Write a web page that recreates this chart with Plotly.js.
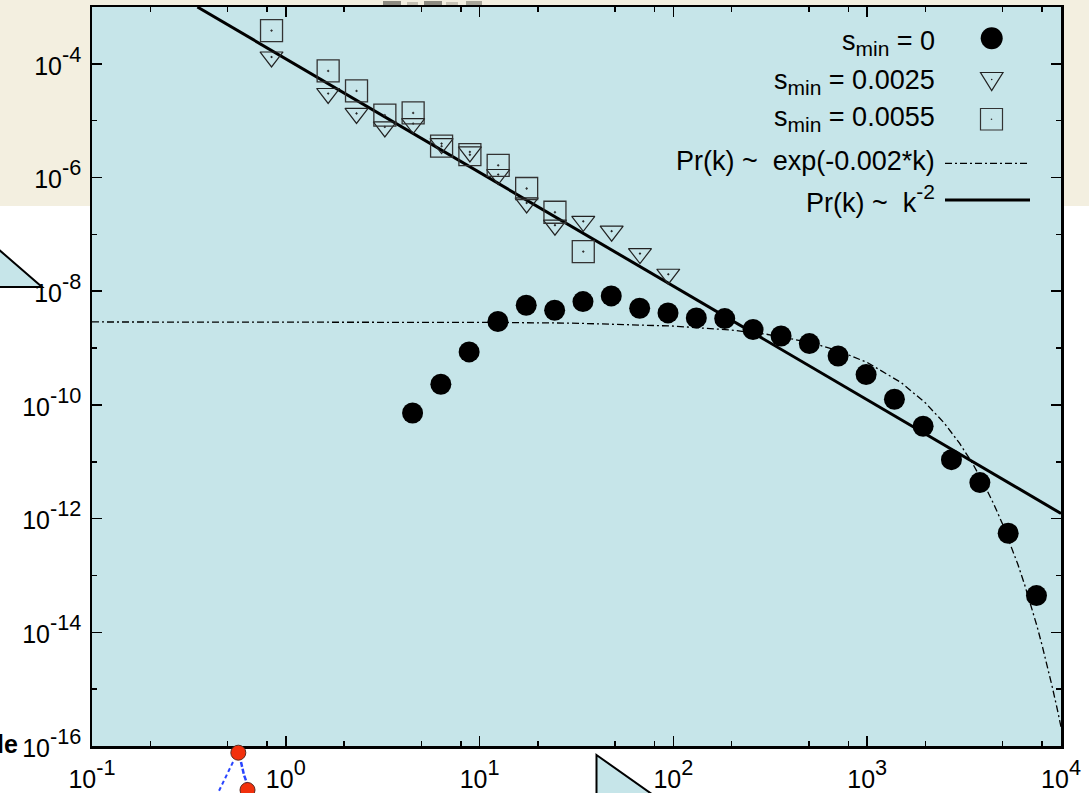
<!DOCTYPE html>
<html>
<head>
<meta charset="utf-8">
<script src="https://cdn.plot.ly/plotly-3.0.1.min.js"></script>
<style>html,body{margin:0;padding:0;background:#fff;}#chart{width:1089px;height:793px;}</style>
</head>
<body>
<div id="chart"></div>
<script>
// ---- data ----
const kCircles = [4.51, 6.31, 8.83, 12.43, 17.40, 24.39, 34.15, 47.80, 66.99, 93.8, 131.3, 184.0, 257.6, 359.4, 503.0, 707.7, 987.1, 1382, 1943, 2721, 3814, 5339, 7472];
const prCircles = [7.21e-11, 2.31e-10, 8.55e-10, 2.93e-9, 5.66e-9, 4.62e-9, 6.58e-9, 8.26e-9, 5.02e-9, 4.15e-9, 3.39e-9, 3.30e-9, 2.12e-9, 1.63e-9, 1.20e-9, 7.26e-10, 3.42e-10, 1.26e-10, 4.22e-11, 1.09e-11, 4.30e-12, 5.52e-13, 4.43e-14];

const kTriangles = [0.844, 1.654, 2.317, 3.244, 4.54, 6.365, 8.91, 12.47, 17.49, 24.48, 34.27, 48.02, 67.23, 94.1];
const prTriangles = [1.32e-4, 3.01e-5, 1.34e-5, 7.76e-6, 8.91e-6, 3.96e-6, 2.82e-6, 1.13e-6, 3.57e-7, 1.45e-7, 1.70e-7, 1.14e-7, 4.60e-8, 1.99e-8];

const kSquares = [0.844, 1.654, 2.317, 3.244, 4.54, 6.365, 8.91, 12.47, 17.49, 24.48, 34.27];
const prSquares = [3.85e-4, 7.50e-5, 3.34e-5, 1.25e-5, 1.37e-5, 3.56e-6, 2.52e-6, 1.64e-6, 6.41e-7, 2.45e-7, 4.99e-8];

const kExpFit = [0.1, 1, 10, 30, 100, 200, 300, 500, 700, 1000, 1500, 2000, 2500, 3000, 3500, 4000, 4500, 5000, 5500, 6000, 6500, 7000, 7500, 8000, 8500, 9000, 9500, 10000];
const prExpFit = [2.88e-9, 2.88e-9, 2.83e-9, 2.75e-9, 2.44e-9, 2.07e-9, 1.76e-9, 1.27e-9, 9.14e-10, 5.58e-10, 2.46e-10, 1.08e-10, 4.78e-11, 2.10e-11, 9.27e-12, 4.08e-12, 1.80e-12, 7.93e-13, 3.49e-13, 1.54e-13, 6.78e-14, 2.99e-14, 1.32e-14, 5.79e-15, 2.55e-15, 1.12e-15, 4.95e-16, 2.18e-16];

const kPowerFit = [0.35, 10000];
const prPowerFit = [1.0e-3, 1.23e-12];

const xTickVals = [0.1, 1, 10, 100, 1000, 10000];
const xTickExp = ['-1', '0', '1', '2', '3', '4'];
const yTickVals = [1e-16, 1e-14, 1e-12, 1e-10, 1e-8, 1e-6, 1e-4];
const yTickExp = ['-16', '-14', '-12', '-10', '-8', '-6', '-4'];
const xMinorVals = [0.2, 0.5, 0.8, 2, 5, 8, 20, 50, 80, 200, 500, 800, 2000, 5000, 8000];
const yMinorVals = [1e-15, 1e-13, 1e-11, 1e-9, 1e-7, 1e-5, 1e-3];

// base font is sized so that Plotly's 70% sub/sup comes out near the reference size;
// normal-size text is wrapped in spans at the reference body size
const BIG = t => '<span style="font-size:27px">' + t + '</span>';
const legendLabels = [
  BIG('s') + '<sub>min</sub>' + BIG(' = 0'),
  BIG('s') + '<sub>min</sub>' + BIG(' = 0.0025'),
  BIG('s') + '<sub>min</sub>' + BIG(' = 0.0055'),
  BIG('Pr(k) ~\u00a0 exp(-0.002*k)'),
  BIG('Pr(k) ~\u00a0 k') + '<sup>-2</sup>'
];

// ---- layout helpers (pixel -> paper) ----
const L = 92, R = 1061, T = 7, B = 746;
const xP = px => (px - L) / (R - L);
const yP = py => (B - py) / (B - T);
const FONT = 'Liberation Sans, Arial, Helvetica, sans-serif';
const BLUE = '#c6e5e9';
const BEIGE = '#f3efe0';

function poly(pts) {
  return 'M' + pts.map(p => xP(p[0]).toFixed(5) + ',' + yP(p[1]).toFixed(5)).join(' L') + ' Z';
}
function pline(pts) {
  return 'M' + pts.map(p => xP(p[0]).toFixed(5) + ',' + yP(p[1]).toFixed(5)).join(' L');
}
function circ(cx, cy, r, fill, line, lw) {
  return {type: 'circle', xref: 'paper', yref: 'paper', x0: xP(cx - r), x1: xP(cx + r), y0: yP(cy + r), y1: yP(cy - r),
          fillcolor: fill, line: {color: line || fill, width: lw || 0}, layer: 'above'};
}
const tickLabel = e => '<span style="font-size:25px">10</span><sup>' + e + '</sup>';

const traces = [
  {x: kExpFit, y: prExpFit, mode: 'lines', line: {color: 'black', width: 1.3, dash: '7px,3px,2px,3px'}},
  {x: kPowerFit, y: prPowerFit, mode: 'lines', line: {color: 'black', width: 3}},
  {x: kCircles, y: prCircles, mode: 'markers', marker: {symbol: 'circle', size: 21, color: 'black', line: {width: 0}}},
  {x: kTriangles, y: prTriangles, mode: 'markers', marker: {symbol: 'triangle-down-open-dot', size: 20, color: '#222', line: {width: 1.2, color: '#222'}}},
  {x: kSquares, y: prSquares, mode: 'markers', marker: {symbol: 'square-open-dot', size: 22, color: '#333', line: {width: 1.3, color: '#333'}}}
];

const shapes = [
  {type: 'rect', xref: 'paper', yref: 'paper', x0: xP(0), x1: xP(1089), y0: yP(206), y1: yP(0), fillcolor: BEIGE, line: {width: 0}, layer: 'below'},
  {type: 'rect', xref: 'paper', yref: 'paper', x0: 0, x1: 1, y0: 0, y1: 1, fillcolor: BLUE, line: {width: 0}, layer: 'below'},
  {type: 'rect', xref: 'paper', yref: 'paper', x0: xP(383), x1: xP(401), y0: yP(6), y1: yP(1), fillcolor: '#8c8a80', line: {width: 0}, layer: 'below'},
  {type: 'rect', xref: 'paper', yref: 'paper', x0: xP(407), x1: xP(418), y0: yP(6), y1: yP(2), fillcolor: '#c4c0b2', line: {width: 0}, layer: 'below'},
  {type: 'rect', xref: 'paper', yref: 'paper', x0: xP(424), x1: xP(442), y0: yP(6), y1: yP(1), fillcolor: '#8c8a80', line: {width: 0}, layer: 'below'},
  {type: 'rect', xref: 'paper', yref: 'paper', x0: xP(446), x1: xP(458), y0: yP(6), y1: yP(2), fillcolor: '#c8c4b6', line: {width: 0}, layer: 'below'},
  {type: 'rect', xref: 'paper', yref: 'paper', x0: xP(466), x1: xP(482), y0: yP(6), y1: yP(1), fillcolor: '#a8a598', line: {width: 0}, layer: 'below'},
  // legend samples
  circ(991.7, 38.3, 11, 'black'),
  {type: 'path', xref: 'paper', yref: 'paper', path: poly([[980.5, 72.5], [1003, 72.5], [991.7, 90.5]]), fillcolor: 'rgba(0,0,0,0)', line: {color: '#222', width: 1.2}, layer: 'above'},
  circ(991.7, 79.5, 0.8, '#222'),
  {type: 'rect', xref: 'paper', yref: 'paper', x0: xP(980.5), x1: xP(1002.5), y0: yP(130), y1: yP(108.5), fillcolor: 'rgba(0,0,0,0)', line: {color: '#333', width: 1.2}, layer: 'above'},
  circ(991.5, 119.3, 0.8, '#333'),
  {type: 'line', xref: 'paper', yref: 'paper', x0: xP(945), x1: xP(1030), y0: yP(163.3), y1: yP(163.3), line: {color: 'black', width: 1.3, dash: '7px,3px,2px,3px'}, layer: 'above'},
  {type: 'line', xref: 'paper', yref: 'paper', x0: xP(945), x1: xP(1030), y0: yP(200), y1: yP(200), line: {color: 'black', width: 3}, layer: 'above'},
  // stray fragments around the chart
  {type: 'path', xref: 'paper', yref: 'paper', path: poly([[-3, 248], [42, 287], [-3, 287]]), fillcolor: BLUE, line: {color: 'black', width: 2}, layer: 'above'},
  {type: 'path', xref: 'paper', yref: 'paper', path: poly([[596.5, 755], [656, 797], [596.5, 797]]), fillcolor: BLUE, line: {color: 'black', width: 2}, layer: 'above'},
  {type: 'path', xref: 'paper', yref: 'paper', path: pline([[233, 762], [217, 795]]), line: {color: '#2844ff', width: 2, dash: '4px,3px'}, layer: 'above'},
  {type: 'path', xref: 'paper', yref: 'paper', path: pline([[241, 762], [244, 775], [248, 786]]), line: {color: '#2844ff', width: 2.5, dash: '5px,2px'}, layer: 'above'},
  circ(238.3, 752.7, 7.5, '#f2300c', '#5a2a20', 1),
  circ(247.5, 790, 7.5, '#f2300c', '#5a2a20', 1)
];

const annotations = legendLabels.map((t, i) => ({
  xref: 'paper', yref: 'paper', x: xP(937), xanchor: 'right',
  y: yP([43, 82, 118.5, 161, 199][i]), yanchor: 'middle',
  text: t, showarrow: false, font: {family: FONT, size: 30, color: 'black'}
}));
annotations.push({xref: 'paper', yref: 'paper', x: xP(20), xanchor: 'right', y: yP(744), yanchor: 'middle',
  text: '<b>le</b>', showarrow: false, font: {family: FONT, size: 25, color: 'black'}});

const axisCommon = {
  type: 'log', showgrid: false, zeroline: false, showline: true, linecolor: 'black', linewidth: 2.5,
  mirror: 'ticks', ticks: 'inside', ticklen: 10, tickwidth: 1.5, tickcolor: 'black',
  tickfont: {family: FONT, size: 31, color: 'black'}, tickmode: 'array'
};

const layout = {
  width: 1089, height: 793,
  margin: {l: L, r: 1089 - R, t: T, b: 793 - B, pad: 0},
  paper_bgcolor: 'white', plot_bgcolor: 'rgba(0,0,0,0)',
  showlegend: false, hovermode: false,
  xaxis: Object.assign({}, axisCommon, {
    range: [-1, 4], tickvals: xTickVals, ticktext: xTickExp.map(tickLabel), ticklabelstandoff: 2,
    minor: {tickmode: 'array', tickvals: xMinorVals, ticks: 'inside', ticklen: 5, tickwidth: 1.5, tickcolor: 'black', showgrid: false}
  }),
  yaxis: Object.assign({}, axisCommon, {
    range: [-16, -3], tickvals: yTickVals, ticktext: yTickExp.map(tickLabel), ticklabelstandoff: 2,
    minor: {tickmode: 'array', tickvals: yMinorVals, ticks: 'inside', ticklen: 5, tickwidth: 1.5, tickcolor: 'black', showgrid: false}
  }),
  shapes: shapes,
  annotations: annotations
};

Plotly.newPlot('chart', traces, layout, {displayModeBar: false, staticPlot: true});
</script>
</body>
</html>
